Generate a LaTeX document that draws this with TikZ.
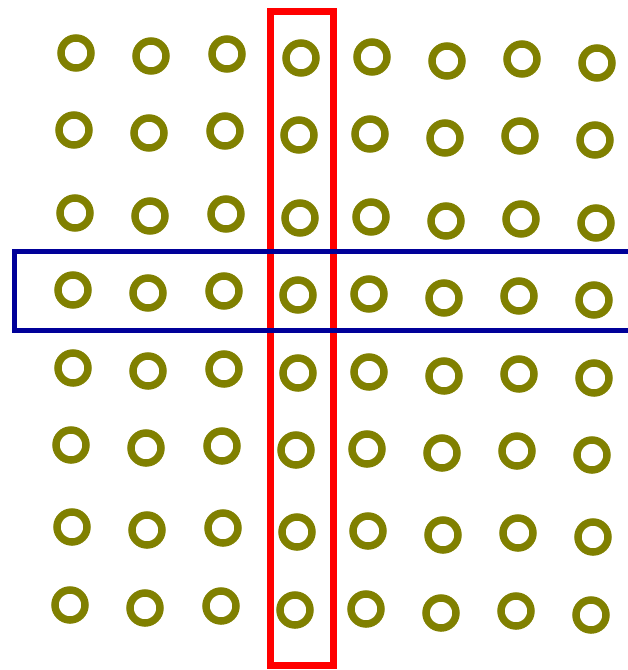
\documentclass[tikz,border=0pt]{standalone}
\usepackage{tikz}
\usetikzlibrary{positioning}
\definecolor{dotolive}{HTML}{808000}
\definecolor{colred}  {HTML}{FF0000}
\definecolor{rowblue} {HTML}{000099}
\tikzset{
  % --- nodes
  ring/.style    = {circle, draw=dotolive, line width=7.5pt, minimum size=30pt,
                    inner sep=0pt, fill=none},
  % --- frames
  colframe/.style = {draw=colred, line width=7pt},
  rowframe/.style = {draw=rowblue, line width=5pt},
}
\begin{document}
\begin{tikzpicture}[x=1pt,y=-1pt]
  \useasboundingbox (0,0) rectangle (628,670);
  % grid of rings
  \foreach \r/\ry/\rdx in {1/53/0, 2/130/-2, 3/213/-1, 4/290/-3,
                           5/368/-3, 6/445/-5, 7/527/-4, 8/605/-6}
  {
    \foreach \c/\cx/\cy in {1/76/0, 2/151/3, 3/227/1, 4/301/5,
                            5/372/4, 6/447/8, 7/522/6, 8/597/10}
    {
      \node[ring] (c\r\c) at ({\cx+\rdx},{\ry+\cy}) {};
    }
  }
  % column frame
  \draw[colframe] (270.5,11) rectangle (333.5,665.5);
  % row frame
  \draw[rowframe] (14.5,251) rectangle (640,330.5);
\end{tikzpicture}
\end{document}
